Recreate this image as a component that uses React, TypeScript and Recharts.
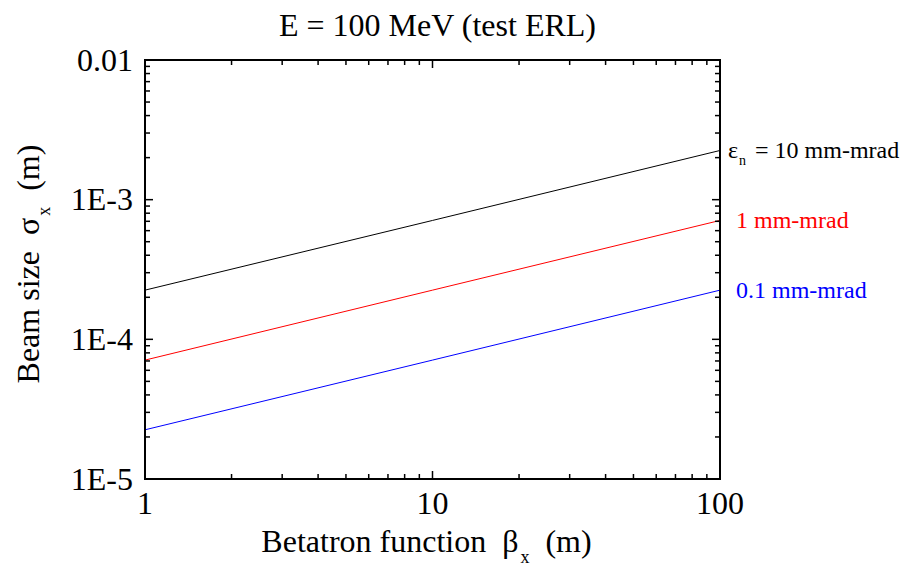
import React from 'react';
import { LineChart, Line, XAxis, YAxis } from 'recharts';

const betas = [1, 10, 100];
const sigma10 = [2.25e-4, 7.1e-4, 2.25e-3];
const sigma1 = [7.1e-5, 2.25e-4, 7.1e-4];
const sigma01 = [2.25e-5, 7.1e-5, 2.25e-4];

const xTicks = [1, 2, 3, 4, 5, 6, 7, 8, 9, 10, 20, 30, 40, 50, 60, 70, 80, 90, 100];
const xMajor = [1, 10, 100];
const xMajorLabels = ['1', '10', '100'];
const yTicks = [
  1e-5, 2e-5, 3e-5, 4e-5, 5e-5, 6e-5, 7e-5, 8e-5, 9e-5,
  1e-4, 2e-4, 3e-4, 4e-4, 5e-4, 6e-4, 7e-4, 8e-4, 9e-4,
  1e-3, 2e-3, 3e-3, 4e-3, 5e-3, 6e-3, 7e-3, 8e-3, 9e-3, 1e-2,
];
const yMajor = [1e-5, 1e-4, 1e-3, 1e-2];
const yMajorLabels = ['1E-5', '1E-4', '1E-3', '0.01'];

const data = betas.map((b, i) => ({ beta: b, s10: sigma10[i], s1: sigma1[i], s01: sigma01[i] }));

const FONT = '"Liberation Serif", "Times New Roman", serif';
const MAJ = 8;
const MIN = 5;

const majorIndex = (v: number, majors: number[]) =>
  majors.findIndex((m) => Math.abs(Math.log10(v) - Math.log10(m)) < 1e-6);

const BottomTick = (p: any) => {
  const { x, y, payload } = p;
  const mi = majorIndex(payload.value, xMajor);
  const len = mi >= 0 ? MAJ : MIN;
  return (
    <g>
      <line x1={x} x2={x} y1={y} y2={y - len} stroke="#000" strokeWidth={1.5} />
      {mi >= 0 && (
        <text x={x} y={y + 35} textAnchor="middle" fontSize={32} fontFamily={FONT} fill="#000">
          {xMajorLabels[mi]}
        </text>
      )}
    </g>
  );
};

const TopTick = (p: any) => {
  const { x, y, payload } = p;
  const mi = majorIndex(payload.value, xMajor);
  const len = mi >= 0 ? MAJ : MIN;
  return <line x1={x} x2={x} y1={y} y2={y + len} stroke="#000" strokeWidth={1.5} />;
};

const LeftTick = (p: any) => {
  const { x, y, payload } = p;
  const mi = majorIndex(payload.value, yMajor);
  const len = mi >= 0 ? MAJ : MIN;
  return (
    <g>
      <line x1={x} x2={x + len} y1={y} y2={y} stroke="#000" strokeWidth={1.5} />
      {mi >= 0 && (
        <text x={x - 12} y={y + 10.5} textAnchor="end" fontSize={32} fontFamily={FONT} fill="#000">
          {yMajorLabels[mi]}
        </text>
      )}
    </g>
  );
};

const RightTick = (p: any) => {
  const { x, y, payload } = p;
  const mi = majorIndex(payload.value, yMajor);
  const len = mi >= 0 ? MAJ : MIN;
  return <line x1={x} x2={x - len} y1={y} y2={y} stroke="#000" strokeWidth={1.5} />;
};

const makeEndLabel = (color: string, kind: 'eps' | 'plain', text: string) => (p: any) => {
  const { x, y, index } = p;
  if (index !== data.length - 1) return null;
  const tx = x + 8;
  const ty = y + 8;
  if (kind === 'eps') {
    return (
      <text x={tx} y={ty} fontSize={24} fontFamily={FONT} fill={color} style={{ whiteSpace: 'pre' }}>
        ε
        <tspan fontSize={14} dx={1} dy={7}>n</tspan>
        <tspan dx={3} dy={-7}>{' = ' + text}</tspan>
      </text>
    );
  }
  return (
    <text x={tx + 8} y={ty} fontSize={24} fontFamily={FONT} fill={color}>
      {text}
    </text>
  );
};

const TitleLabel = (p: any) => {
  const vb = p.viewBox || { x: 145, y: 60, width: 575 };
  return (
    <text x={vb.x + vb.width / 2 + 5} y={36} textAnchor="middle" fontSize={32} fontFamily={FONT} fill="#000">
      E = 100 MeV (test ERL)
    </text>
  );
};

const XTitle = (p: any) => {
  const vb = p.viewBox || { x: 145, y: 479, width: 575 };
  return (
    <text
      x={vb.x + vb.width / 2 - 6}
      y={552}
      textAnchor="middle"
      fontSize={32}
      fontFamily={FONT}
      fill="#000"
      style={{ whiteSpace: 'pre' }}
    >
      {'Betatron function  β'}
      <tspan fontSize={18} dx={2} dy={11}>x</tspan>
      <tspan dy={-11}>{'  (m)'}</tspan>
    </text>
  );
};

const YTitle = (p: any) => {
  const cx = 39;
  const cy = 264;
  return (
    <text
      x={cx}
      y={cy}
      transform={`rotate(-90, ${cx}, ${cy})`}
      textAnchor="middle"
      fontSize={32}
      fontFamily={FONT}
      fill="#000"
      style={{ whiteSpace: 'pre' }}
    >
      {'Beam size  σ'}
      <tspan fontSize={18} dx={2} dy={11}>x</tspan>
      <tspan dy={-11}>{'  (m)'}</tspan>
    </text>
  );
};

const axisLine = { stroke: '#000', strokeWidth: 2, strokeLinecap: 'square' as const };

export default function App() {
  return (
    <div style={{ position: 'absolute', left: 0, top: 0, width: 906, height: 571, background: '#fff' }}>
      <LineChart width={906} height={571} data={data} margin={{ top: 59, right: 185, bottom: 91, left: 144 }}>
        <XAxis
          xAxisId="b"
          dataKey="beta"
          type="number"
          scale="log"
          domain={[1, 100]}
          ticks={xTicks}
          interval={0}
          allowDataOverflow
          orientation="bottom"
          height={1}
          tickSize={0}
          tickMargin={0}
          tickLine={false}
          axisLine={axisLine}
          tick={<BottomTick />}
          label={{ content: (p: any) => <XTitle {...p} /> }}
        />
        <XAxis
          xAxisId="t"
          dataKey="beta"
          type="number"
          scale="log"
          domain={[1, 100]}
          ticks={xTicks}
          interval={0}
          allowDataOverflow
          orientation="top"
          height={1}
          tickSize={0}
          tickMargin={0}
          tickLine={false}
          axisLine={axisLine}
          tick={<TopTick />}
          label={{ content: (p: any) => <TitleLabel {...p} /> }}
        />
        <YAxis
          yAxisId="l"
          type="number"
          scale="log"
          domain={[1e-5, 1e-2]}
          ticks={yTicks}
          interval={0}
          allowDataOverflow
          orientation="left"
          width={1}
          tickSize={0}
          tickMargin={0}
          tickLine={false}
          axisLine={axisLine}
          tick={<LeftTick />}
          label={{ content: (p: any) => <YTitle {...p} /> }}
        />
        <YAxis
          yAxisId="r"
          type="number"
          scale="log"
          domain={[1e-5, 1e-2]}
          ticks={yTicks}
          interval={0}
          allowDataOverflow
          orientation="right"
          width={1}
          tickSize={0}
          tickMargin={0}
          tickLine={false}
          axisLine={axisLine}
          tick={<RightTick />}
        />
        <Line
          xAxisId="b"
          yAxisId="l"
          dataKey="s10"
          stroke="#000000"
          strokeWidth={1}
          dot={false}
          isAnimationActive={false}
          label={makeEndLabel('#000000', 'eps', '10 mm-mrad')}
        />
        <Line
          xAxisId="b"
          yAxisId="l"
          dataKey="s1"
          stroke="#ff0000"
          strokeWidth={1}
          dot={false}
          isAnimationActive={false}
          label={makeEndLabel('#ff0000', 'plain', '1 mm-mrad')}
        />
        <Line
          xAxisId="b"
          yAxisId="l"
          dataKey="s01"
          stroke="#0000ff"
          strokeWidth={1}
          dot={false}
          isAnimationActive={false}
          label={makeEndLabel('#0000ff', 'plain', '0.1 mm-mrad')}
        />
      </LineChart>
    </div>
  );
}
